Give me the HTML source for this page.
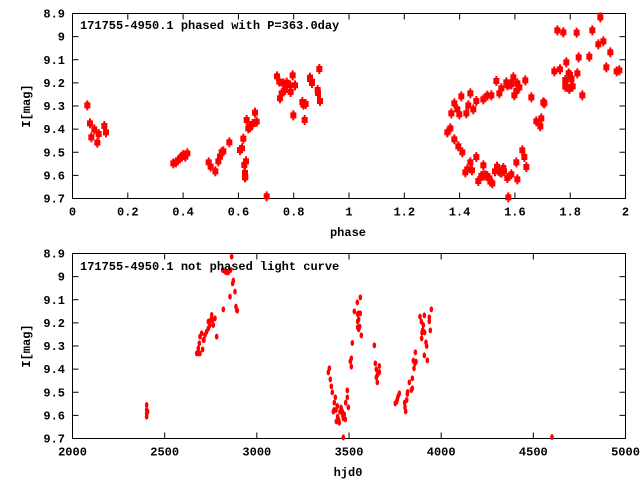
<!DOCTYPE html>
<html><head><meta charset="utf-8"><style>
body{margin:0;background:#fff}
svg{display:block}
text{font-family:"Liberation Mono","DejaVu Sans Mono",monospace;font-weight:bold;font-size:12px;fill:#000}
</style></head><body>
<svg id="s" width="640" height="480" xmlns="http://www.w3.org/2000/svg">
<rect width="640" height="480" fill="#fff"/>
<g id="g"></g>
<text x="80" y="29">171755-4950.1 phased with P=363.0day</text>
<text x="80" y="270">171755-4950.1 not phased light curve</text>
<text transform="translate(30,106) rotate(-90)" text-anchor="middle">I[mag]</text>
<text transform="translate(30,346) rotate(-90)" text-anchor="middle">I[mag]</text>
<text x="348" y="236" text-anchor="middle">phase</text>
<text x="348" y="476" text-anchor="middle">hjd0</text>
</svg>
<script>
var g=document.getElementById('g'),h='';
function ln(a,b,c,d){h+='<line x1="'+a+'" y1="'+b+'" x2="'+c+'" y2="'+d+'" stroke="#000" stroke-width="1"/>';}
function tx(x,y,t,a){h+='<text x="'+x+'" y="'+y+'" text-anchor="'+a+'">'+t+'</text>';}
function panel(tp,xl){
 var L=72.5,R=625.5,T=tp+13.5,B=tp+198.5;
 h+='<rect x="'+L+'" y="'+T+'" width="'+(R-L)+'" height="'+(B-T)+'" fill="none" stroke="#000"/>';
 var ys=['8.9','9','9.1','9.2','9.3','9.4','9.5','9.6','9.7'];
 for(var i=0;i<9;i++){var y=T+i*(B-T)/8;ln(L,y,L+6,y);ln(R,y,R-6,y);tx(65,y+4,ys[i],'end');}
 var n=xl.length;
 for(var i=0;i<n;i++){var x=L+i*(R-L)/(n-1);ln(x,B,x,B-6);ln(x,T,x,T+6);tx(x,B+17,xl[i],'middle');}
}
panel(0,['0','0.2','0.4','0.6','0.8','1','1.2','1.4','1.6','1.8','2']);
panel(240,['2000','2500','3000','3500','4000','4500','5000']);
var tl=[310,79,312,83,318,93,320,101];
var t1=[262,316,270,370,274,412,283,388,292,428,296,402,313,378,318,397,520,490,528,487,540,475,545,470,550,465,556,470,562,460,626,487,632,500,646,514,655,484,660,470,665,457,670,454,688,427,720,450,726,445,730,416,733,495,735,519,736,530,735,532,738,484,740,360,745,385,750,382,758,372,765,338,770,365,800,589,831,229,838,245,840,295,845,280,850,250,855,270,860,248,870,256,872,276,878,226,880,346,885,256,907,306,910,314,914,360,917,312,930,233,936,245,953,270,958,207];
for(var i=0;i<t1.length;i+=2){tl.push(t1[i]/3,t1[i+1]/3);}
var tz=[52,367,61,355,73,388,85,409,97,427,106,487,112,478,121,457,126,481,139,441,145,513,154,498,160,466,160,497,166,496,172,498,178,505,181,515,187,520,195,484,201,470,205,482,211,486,214,488,220,474,222,484,232,504,235,562,244,493,259,457,262,508,277,421,283,441,289,471,64,310,73,280,82,298,88,313,94,259,109,310,115,286,121,250,130,298,139,273,160,268,172,257,184,256,199,213,208,250,214,235,229,217,232,226,238,223,244,223,250,202,253,256,259,243,262,220,268,232,286,211,304,262,319,334,331,349,334,325,340,277,343,280,373,184,382,61,390,178,400,67,406,210,406,230,409,157,416,190,418,237,420,195,424,206,428,229,440,68,442,190,446,142,457,256,478,140,487,61,505,103,511,22,520,94,529,172,541,127,560,184,568,181,406,218,424,208];
for(var i=0;i<tz.length;i+=2){tl.push(430+tz[i]/3,10+tz[i+1]/3);}
for(var i=0;i<tl.length;i+=2){var x=tl[i],y=tl[i+1];
 h+='<rect x="'+(x-3)+'" y="'+(y-3)+'" width="6" height="6" fill="#f00"/><line x1="'+x+'" y1="'+(y-5)+'" x2="'+x+'" y2="'+(y+5)+'" stroke="#f00" stroke-width="2"/>';}
var z=[440,495,440,510,440,520,440,530,443,515,590,340,595,325,598,310,600,290,605,280,610,300,608,328,612,300,615,285,620,275,625,265,625,245,630,255,632,240,635,225,638,240,640,255,650,290,645,235,668,90,670,208,675,95,680,97,685,97,690,170,692,90,695,50,698,130,700,122,705,155,708,200,710,210,712,212,595,340,600,340];
var bot=[];for(var i=0;i<z.length;i+=2){bot.push(z[i]/3,z[i+1]/3+240);}
var z2=[55,277,58,265,61,298,64,319,67,337,72,390,70,395,76,352,73,368,78,390,82,378,79,424,83,410,86,420,88,428,90,395,93,383,95,390,97,395,98,405,100,415,103,403,106,418,100,472,107,368,112,352,112,331,115,382,121,244,124,235,124,260,127,189,133,94,142,67,151,52,143,102,146,100,151,100,143,124,146,118,149,140,143,142,146,148,154,166,193,196,196,250,199,268,202,285,205,280,208,258,208,276,199,292,202,307,256,370,260,365,262,358,264,350,268,340,284,368,285,382,287,394,290,360,292,342,293,336,298,307,304,330,307,325,307,295,310,242,312,265,315,250,318,245,316,217,330,110,334,125,335,175,336,158,338,150,340,135,343,106,344,157,343,226,348,187,350,198,352,241,358,112,358,124,361,151,364,88];
for(var i=0;i<z2.length;i+=2){bot.push(310+z2[i]/3,280+z2[i+1]/3);}
bot.push(552,437);
for(var i=0;i<bot.length;i+=2){h+='<ellipse cx="'+bot[i]+'" cy="'+bot[i+1]+'" rx="1.8" ry="3" fill="#f00"/>';}
g.innerHTML=h;
</script>
</body></html>
